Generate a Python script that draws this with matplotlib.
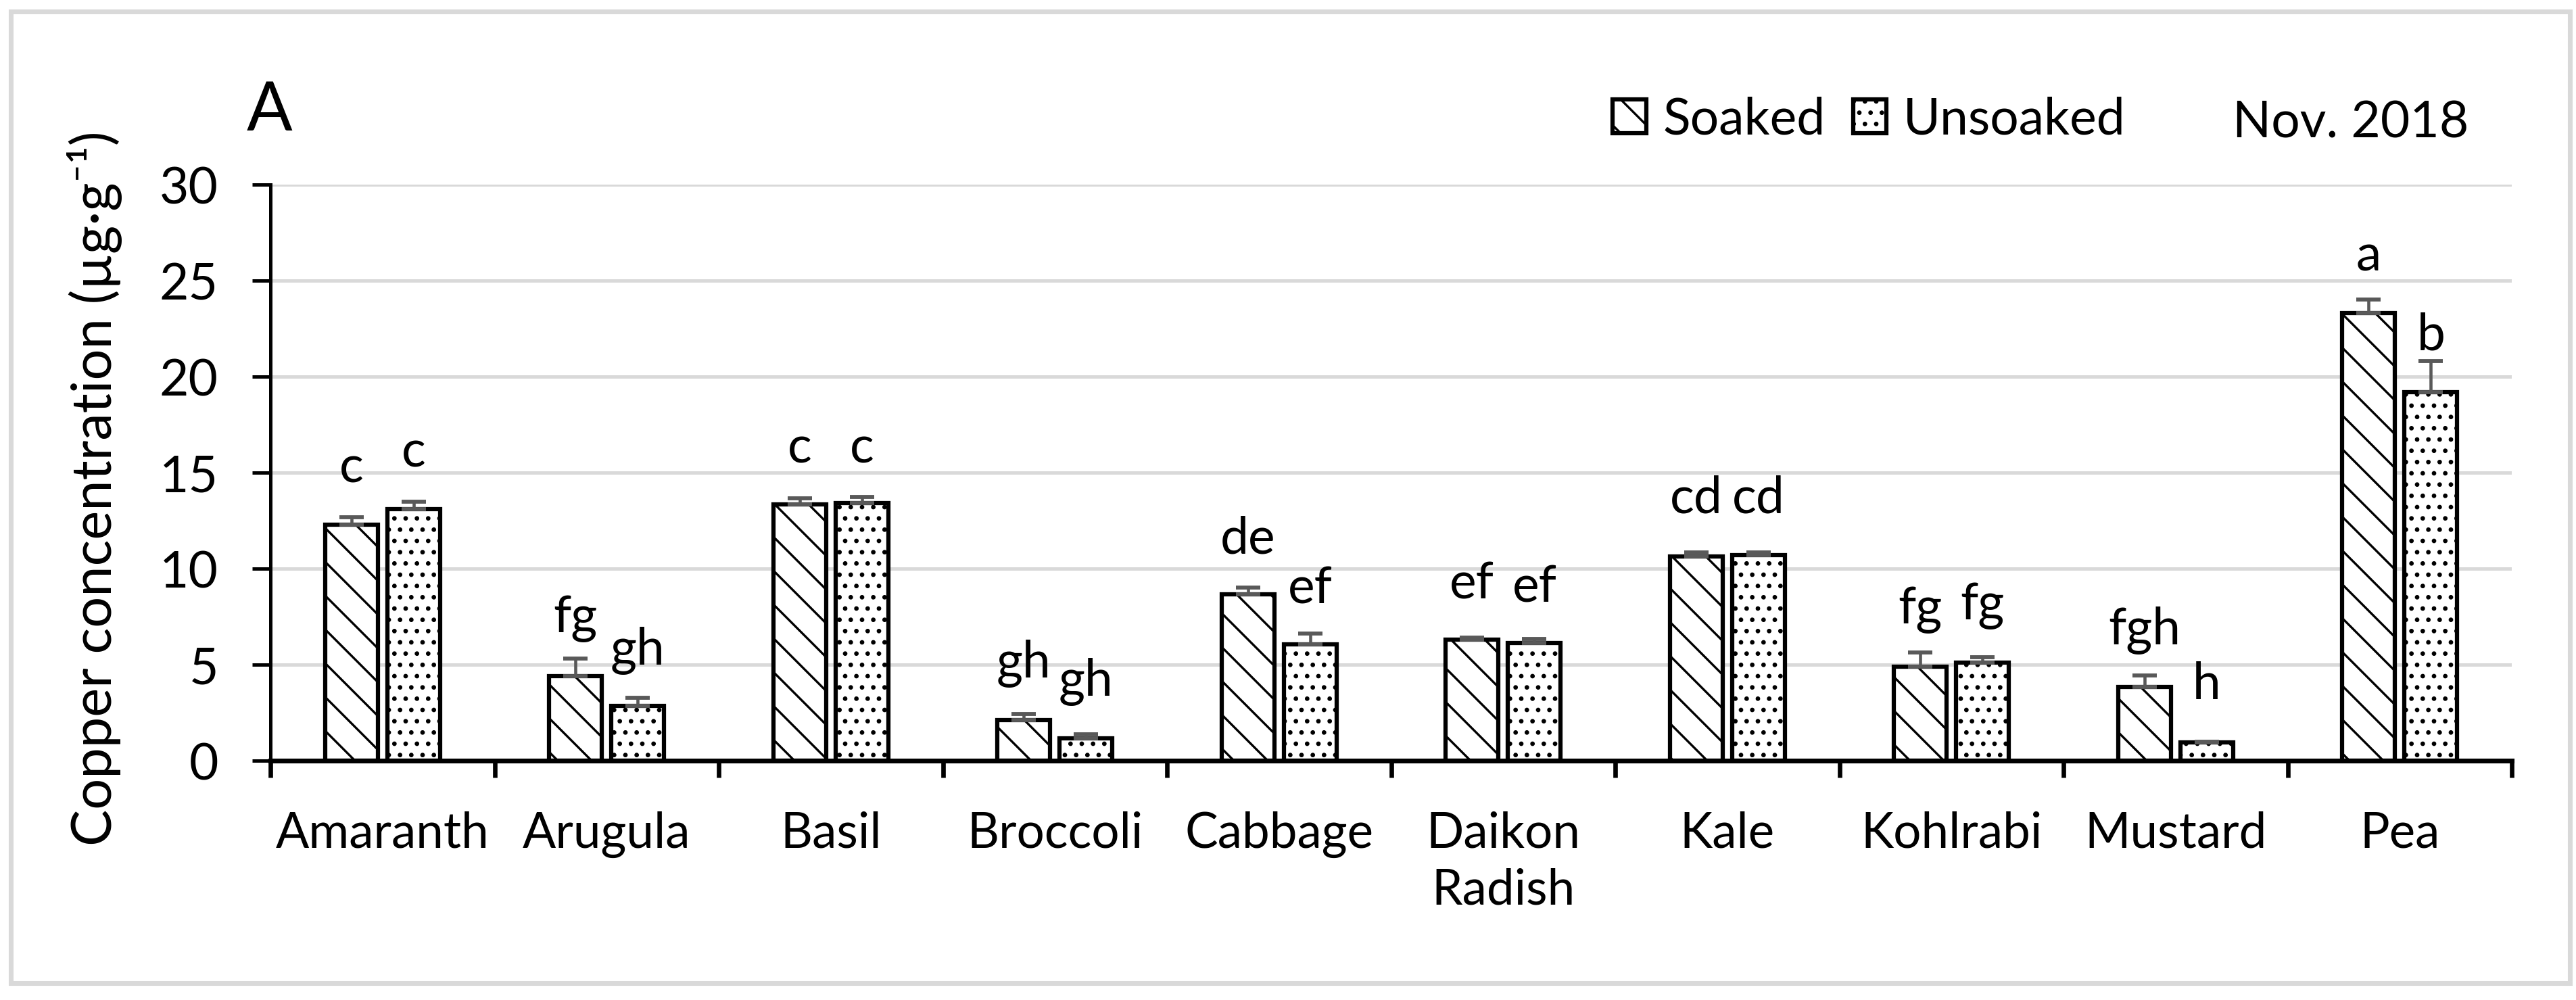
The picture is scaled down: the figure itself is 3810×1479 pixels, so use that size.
import matplotlib
matplotlib.use("Agg")
import matplotlib.pyplot as plt
import matplotlib.patches as mpatches
import numpy as np

plt.rcParams['font.family'] = ['Lato', 'DejaVu Sans']
plt.rcParams['hatch.linewidth'] = 0.8

# ---- data ----
categories = ["Amaranth", "Arugula", "Basil", "Broccoli", "Cabbage",
              "Daikon\nRadish", "Kale", "Kohlrabi", "Mustard", "Pea"]
soaked = [12.3, 4.4, 13.35, 2.1, 8.65, 6.3, 10.65, 4.9, 3.85, 23.3]
unsoaked = [13.1, 2.85, 13.4, 1.15, 6.05, 6.12, 10.7, 5.1, 0.95, 19.2]
soaked_err = [0.38, 0.93, 0.30, 0.33, 0.37, 0.11, 0.20, 0.74, 0.58, 0.70]
unsoaked_err = [0.37, 0.42, 0.35, 0.21, 0.58, 0.22, 0.15, 0.30, 0.05, 1.60]
soaked_letters = ["c", "fg", "c", "gh", "de", "ef", "cd", "fg", "fgh", "a"]
unsoaked_letters = ["c", "gh", "c", "gh", "ef", "ef", "cd", "fg", "h", "b"]
soaked_letter_y = [14.5, 6.7, 15.5, 4.33, 10.8, 8.45, 12.9, 7.15, 6.04, 25.5]
unsoaked_letter_y = [15.3, 5.0, 15.5, 3.38, 8.2, 8.27, 12.9, 7.35, 3.2, 21.4]
yticks = [0, 5, 10, 15, 20, 25, 30]

W, H = 3810, 1479
DPI = 300
fig = plt.figure(figsize=(W / DPI, H / DPI), dpi=DPI)
ax = fig.add_axes([400 / W, 1 - 1125 / H, (3715 - 400) / W, (1125 - 273) / H])

x = np.arange(len(categories))
bw = 0.235
off = 0.139
ax.bar(x - off, soaked, bw, color="white", edgecolor="black", linewidth=1.5,
       hatch="\\\\", label="Soaked", zorder=3)
ax.bar(x + off, unsoaked, bw, color="white", edgecolor="black", linewidth=1.5,
       hatch="...", label="Unsoaked", zorder=3)

ekw = dict(fmt="none", ecolor="#595959", elinewidth=1.1, capsize=4.4, capthick=1.4, zorder=4)
ax.errorbar(x - off, soaked, yerr=[np.zeros(len(x)), soaked_err], **ekw)
ax.errorbar(x + off, unsoaked, yerr=[np.zeros(len(x)), unsoaked_err], **ekw)

for i in range(len(x)):
    ax.text(x[i] - off, soaked_letter_y[i], soaked_letters[i], ha="center",
            va="baseline", fontsize=18, zorder=5)
    ax.text(x[i] + off, unsoaked_letter_y[i], unsoaked_letters[i], ha="center",
            va="baseline", fontsize=18, zorder=5)

ax.set_xlim(-0.5, len(x) - 0.5)
ax.set_ylim(0, 30)
ax.set_yticks(yticks)
ax.set_yticklabels([str(t) for t in yticks], fontsize=18)
ax.tick_params(axis="y", length=6.5, width=1.2, pad=12, direction="out")
ax.set_xticks(x)
ax.set_xticklabels(categories, fontsize=17.5, linespacing=1.3)
ax.tick_params(axis="x", which="major", length=0, pad=18)
ax.set_xticks(np.arange(len(x) + 1) - 0.5, minor=True)
ax.tick_params(axis="x", which="minor", length=6, width=1.6, direction="out")

ax.yaxis.grid(True, color="#d9d9d9", linewidth=1.2, zorder=0)
ax.set_axisbelow(True)
for s in ["top", "right"]:
    ax.spines[s].set_visible(False)
ax.spines["left"].set_linewidth(1.2)
ax.spines["bottom"].set_linewidth(1.7)
ax.spines["bottom"].set_zorder(6)

# y label
fig.text(140 / W, 1 - 722 / H, "Copper concentration (µg·g⁻¹)", rotation=90,
         ha="center", va="center", fontsize=19.5)

# panel letter and date
fig.text(365 / W, 1 - 193 / H, "A", fontsize=24, va="baseline", ha="left")
fig.text(3302 / W, 1 - 203 / H, "Nov. 2018", fontsize=18, va="baseline", ha="left")

leg = ax.legend(loc="center left", bbox_to_anchor=(2385 / W, 1 - 177 / H),
                bbox_transform=fig.transFigure, ncol=2, frameon=False,
                fontsize=18, handlelength=0.66, handleheight=0.66,
                handletextpad=0.33, columnspacing=0.55, borderpad=0,
                borderaxespad=0)

# outer frame
fig.patches.append(mpatches.Rectangle((15.5 / W, 1 - 1453.5 / H), (3801 - 15.5) / W,
                                      (1453.5 - 16.5) / H, transform=fig.transFigure,
                                      fill=False, edgecolor="#d9d9d9", linewidth=1.7))

fig.savefig("out.png", dpi=DPI)
